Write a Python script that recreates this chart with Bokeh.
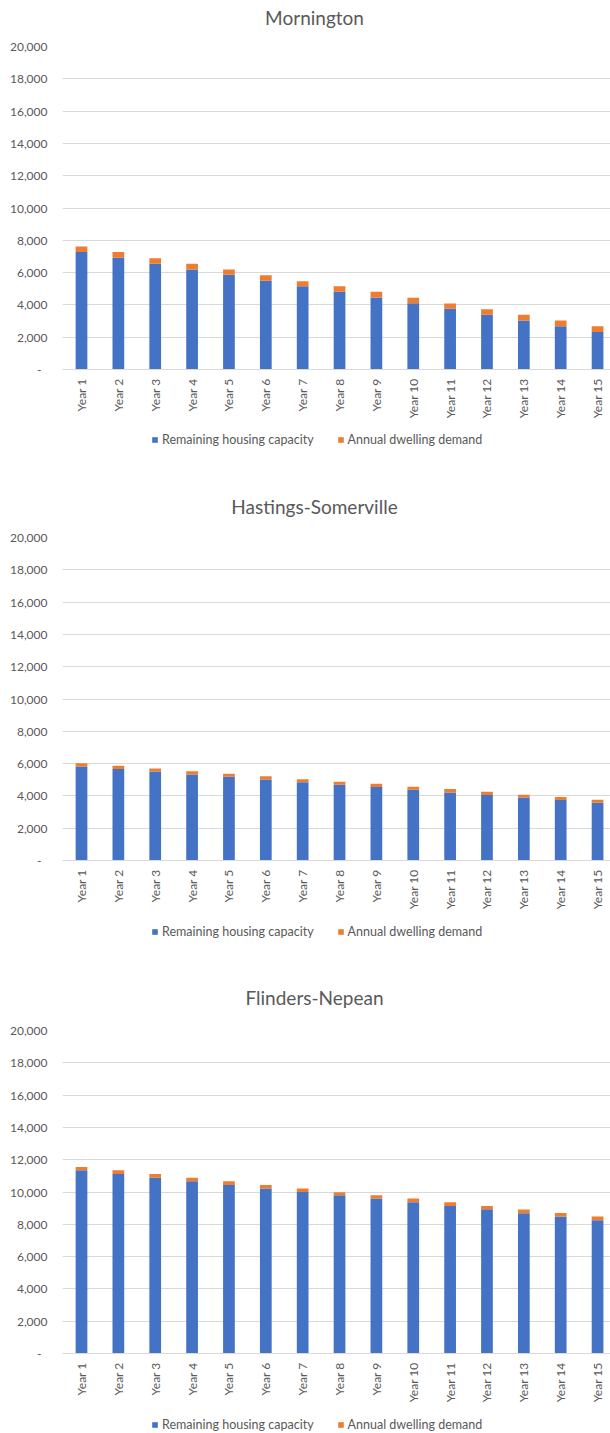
from bokeh.plotting import figure
from bokeh.layouts import column
from bokeh.models import (ColumnDataSource, Range1d, FixedTicker, Legend, LegendItem,
                          Label, NumeralTickFormatter)
from bokeh.embed import file_html
from bokeh.resources import INLINE

# ---- data -------------------------------------------------------------
years = ["Year 1", "Year 2", "Year 3", "Year 4", "Year 5", "Year 6", "Year 7", "Year 8",
         "Year 9", "Year 10", "Year 11", "Year 12", "Year 13", "Year 14", "Year 15"]

series_names = ["Remaining housing capacity", "Annual dwelling demand"]

titles = ["Mornington", "Hastings-Somerville", "Flinders-Nepean"]

mornington_capacity = [7270, 6915, 6545, 6190, 5860, 5490, 5150, 4815, 4460, 4105,
                       3755, 3385, 3030, 2675, 2325]
mornington_demand = [350, 355, 350, 355, 330, 350, 320, 335, 355, 335,
                     330, 350, 355, 355, 350]

hastings_capacity = [5815, 5670, 5505, 5330, 5190, 5015, 4850, 4695, 4545, 4385,
                     4215, 4060, 3895, 3740, 3570]
hastings_demand = [205, 190, 190, 200, 175, 205, 185, 175, 200, 175,
                   205, 190, 170, 185, 185]

flinders_capacity = [11340, 11115, 10890, 10665, 10435, 10210, 10000, 9795, 9590, 9365,
                     9135, 8930, 8685, 8480, 8250]
flinders_demand = [205, 225, 225, 225, 230, 225, 210, 190, 205, 225,
                   230, 205, 225, 220, 230]

y_ticks = [0, 2000, 4000, 6000, 8000, 10000, 12000, 14000, 16000, 18000, 20000]

# ---- styling ----------------------------------------------------------
FONT = "Lato"
TEXT = "#595959"
GRID = "#d9d9d9"
COLORS = ["#4472C4", "#ED7D31"]
WIDTH = 610


def make_source(capacity, demand):
    positions = list(range(1, len(years) + 1))
    return ColumnDataSource(dict(x=positions, capacity=capacity, demand=demand))


def make_chart(src):
    positions = list(src.data["x"])
    p = figure(width=WIDTH, height=387, output_backend="svg", toolbar_location=None,
               x_range=Range1d(0.4845, 15.351), y_range=Range1d(y_ticks[0], y_ticks[-1]),
               min_border_left=62, min_border_right=0,
               min_border_top=8, min_border_bottom=56)
    p.outline_line_color = None
    p.background_fill_color = "white"
    p.border_fill_color = "white"

    p.vbar_stack(["capacity", "demand"], x="x", width=0.318,
                 color=COLORS, line_color=None, source=src)

    # y axis: thousands with commas, zero shown as a dash
    p.yaxis.ticker = FixedTicker(ticks=y_ticks)
    p.yaxis.formatter = NumeralTickFormatter(format="0,0")
    p.yaxis.major_label_overrides = {0: "-\u00a0\u00a0"}
    p.yaxis.axis_line_color = None
    p.yaxis.major_tick_line_color = None
    p.yaxis.major_tick_out = 0
    p.yaxis.minor_tick_line_color = None
    p.yaxis.minor_tick_out = 0
    p.yaxis.major_label_standoff = 15
    p.yaxis.major_label_text_font = FONT
    p.yaxis.major_label_text_font_size = "12px"
    p.yaxis.major_label_text_color = TEXT

    # x axis: rotated year labels
    p.xaxis.ticker = FixedTicker(ticks=positions)
    p.xaxis.major_label_overrides = {pos: lab for pos, lab in zip(positions, years)}
    p.xaxis.major_label_orientation = 1.5707963
    p.xaxis.axis_line_color = GRID
    p.xaxis.major_tick_line_color = None
    p.xaxis.major_tick_out = 0
    p.xaxis.minor_tick_line_color = None
    p.xaxis.minor_tick_out = 0
    p.xaxis.major_label_standoff = 9
    p.xaxis.major_label_text_font = FONT
    p.xaxis.major_label_text_font_size = "12px"
    p.xaxis.major_label_text_color = TEXT

    p.xgrid.grid_line_color = None
    p.ygrid.grid_line_color = GRID
    p.ygrid.grid_line_width = 1
    return p


def make_strip(height, src=None, legend_bottom=None, title=None, title_y=None):
    """Strip between charts: the series key of the chart above and/or
    the heading of the chart below."""
    s = figure(width=WIDTH, height=height, output_backend="svg", toolbar_location=None,
               x_range=Range1d(-2, -1), y_range=Range1d(0, 1),
               x_axis_location=None, y_axis_location=None,
               min_border_left=62, min_border_right=0,
               min_border_top=0, min_border_bottom=0)
    s.outline_line_color = None
    s.xgrid.grid_line_color = None
    s.ygrid.grid_line_color = None

    if src is not None:
        # key swatches reuse the chart's columns; the strip's range keeps them off-screen
        items = []
        for name, col, color in zip(series_names, ["capacity", "demand"], COLORS):
            r = s.vbar(x="x", top=col, width=0.3, color=color, line_color=None, source=src)
            items.append(LegendItem(label=name, renderers=[r]))
        legend = Legend(items=items, location=(89, legend_bottom), orientation="horizontal",
                        glyph_width=7, glyph_height=7, label_height=14,
                        label_standoff=4, spacing=23,
                        padding=0, margin=0, border_line_color=None,
                        background_fill_alpha=0,
                        label_text_font=FONT, label_text_font_size="12.5px",
                        label_text_color=TEXT)
        s.add_layout(legend, "center")

    if title is not None:
        s.add_layout(Label(x=252, y=title_y, x_units="screen", y_units="screen",
                           text=title, text_align="center", text_baseline="middle",
                           text_font=FONT, text_font_size="19px", text_color=TEXT))
    return s


src1 = make_source(mornington_capacity, mornington_demand)
src2 = make_source(hastings_capacity, hastings_demand)
src3 = make_source(flinders_capacity, flinders_demand)

page = column(
    make_strip(38, title=titles[0], title_y=21),
    make_chart(src1),
    make_strip(104, src=src1, legend_bottom=82, title=titles[1], title_y=23),
    make_chart(src2),
    make_strip(106, src=src2, legend_bottom=83, title=titles[2], title_y=25),
    make_chart(src3),
    make_strip(24, src=src3, legend_bottom=1),
    spacing=0,
)

open("out.html", "w").write(file_html(page, INLINE))
